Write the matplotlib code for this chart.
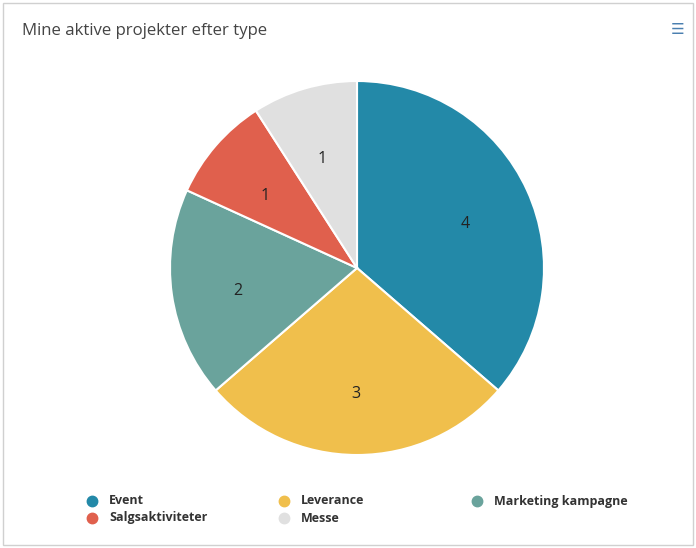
import matplotlib.pyplot as plt
from matplotlib.patches import Rectangle
from matplotlib import transforms

plt.rcParams['font.family'] = ['Open Sans', 'DejaVu Sans']

categories = ['Event', 'Leverance', 'Marketing kampagne', 'Salgsaktiviteter', 'Messe']
values = [4, 3, 2, 1, 1]
colors = ['#2389a8', '#f0bf4c', '#6aa39c', '#e0604d', '#e0e0e0']

W, H = 696, 548
fig = plt.figure(figsize=(W / 100, H / 100), dpi=100)

# light frame round the card
fig.patches.append(Rectangle((3 / W, 3 / H), (W - 6) / W, (H - 6) / H,
                             transform=fig.transFigure, fill=False,
                             edgecolor='#d0d0d0', linewidth=1))

fig.text(22 / W, 1 - 31 / H, 'Mine aktive projekter efter type',
         fontsize=12.1, color='#444444', va='center', ha='left')
fig.text(678 / W, 1 - 30 / H, '\u2630', fontsize=11, color='#4a7fb0',
         va='center', ha='center', family=['DejaVu Sans'])

# pie
cx, cy, r = 357, 268, 187
ax = fig.add_axes([(cx - r) / W, (H - cy - r) / H, 2 * r / W, 2 * r / H])
wedges, texts = ax.pie(values, colors=colors, startangle=90, counterclock=False,
                       labels=[str(v) for v in values], labeldistance=0.64,
                       wedgeprops=dict(edgecolor='white', linewidth=1.5))
shift = transforms.offset_copy(ax.transData, fig=fig, x=-1, y=-6, units='dots')
for t in texts:
    t.set_fontsize(11.5)
    t.set_color('#222222')
    t.set_ha('center')
    t.set_va('center')
    t.set_transform(shift)
ax.set_xlim(-1, 1)
ax.set_ylim(-1, 1)
ax.set_aspect('equal')

# legend, three columns
col_x = [92, 284, 477]
row_y = [501, 518]
for i, (name, c) in enumerate(zip(categories, colors)):
    x = col_x[i % 3]
    y = row_y[i // 3]
    fig.add_artist(plt.Line2D([x / W], [1 - y / H], marker='o', markersize=7.5,
                              color=c, linestyle='none', transform=fig.transFigure))
    fig.text((x + 17) / W, 1 - y / H, name, fontsize=9, fontweight='bold',
             color='#333333', va='center', ha='left')

fig.savefig('out.png', dpi=100, facecolor='white')
